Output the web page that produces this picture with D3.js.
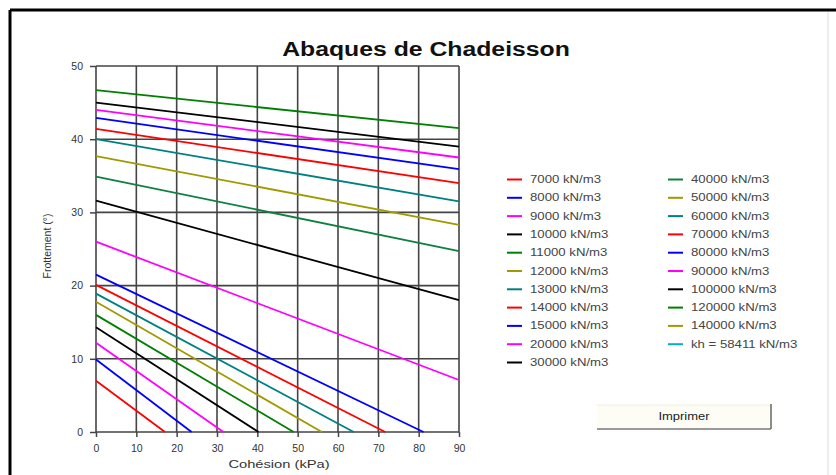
<!DOCTYPE html>
<html>
<head>
<meta charset="utf-8">
<script src="https://cdn.jsdelivr.net/npm/d3@7"></script>
<style>
  body { margin: 0; background: #fff; }
  svg { display: block; font-family: "Liberation Sans", Arial, sans-serif; }
</style>
</head>
<body>
<div id="chart"></div>
<script>
// raideurs (legende)
const seriesNames = ['7000 kN/m3', '8000 kN/m3', '9000 kN/m3', '10000 kN/m3', '11000 kN/m3',
  '12000 kN/m3', '13000 kN/m3', '14000 kN/m3', '15000 kN/m3', '20000 kN/m3', '30000 kN/m3',
  '40000 kN/m3', '50000 kN/m3', '60000 kN/m3', '70000 kN/m3', '80000 kN/m3', '90000 kN/m3',
  '100000 kN/m3', '120000 kN/m3', '140000 kN/m3', 'kh = 58411 kN/m3'];

const seriesColors = ['#ff0000', '#0000ff', '#ff00ff', '#000000', '#008000',
  '#a09a00', '#008080', '#ff0000', '#0000ff', '#ff00ff', '#000000',
  '#108040', '#a09a00', '#008080', '#ff0000', '#0000ff', '#ff00ff',
  '#000000', '#008000', '#a09a00', '#00b0c0'];

// cohesion (kPa) at the start and end of each line
const cohesionStart = [0, 0, 0, 0, 0, 0, 0, 0, 0, 0, 0, 0, 0, 0, 0, 0, 0, 0, 0, null, null];
const cohesionEnd = [17.1, 23.7, 31.6, 40.3, 49.0, 56.0, 63.9, 71.7, 81.2, 90, 90,
  90, 90, 90, 90, 90, 90, 90, 90, null, null];
// frottement (deg) at the start and end of each line
const frottStart = [7.0, 9.9, 12.2, 14.3, 16.0, 17.8, 18.9, 20.1, 21.5, 26.0, 31.6,
  34.9, 37.7, 40.0, 41.4, 42.9, 44.0, 45.0, 46.7, null, null];
const frottEnd = [0, 0, 0, 0, 0, 0, 0, 0, 0, 7.1, 18.0,
  24.7, 28.3, 31.5, 34.0, 35.9, 37.5, 39.0, 41.5, null, null];

const xTicks = [0, 10, 20, 30, 40, 50, 60, 70, 80, 90];
const yTicks = [0, 10, 20, 30, 40, 50];

const width = 836, height = 475;
const plot = { left: 96, right: 459, top: 66, bottom: 432 };

const svg = d3.select('#chart').append('svg')
  .attr('width', width).attr('height', height);

// the original picture is stretched sideways, so texts get a horizontal scale
function wideText(g, x, y, sx, txt) {
  return g.append('text')
    .attr('transform', `translate(${x},${y}) scale(${sx},1)`)
    .text(txt);
}

// cadre
svg.append('line').attr('x1', 10).attr('x2', width).attr('y1', 10).attr('y2', 10)
  .attr('stroke', '#000').attr('stroke-width', 3);
svg.append('line').attr('x1', 10).attr('x2', 10).attr('y1', 10).attr('y2', height)
  .attr('stroke', '#000').attr('stroke-width', 3);
svg.append('line').attr('x1', 828).attr('x2', 828).attr('y1', 12).attr('y2', height)
  .attr('stroke', '#ddd').attr('stroke-width', 1);

wideText(svg, 426, 56, 1.18, 'Abaques de Chadeisson')
  .attr('text-anchor', 'middle')
  .attr('font-size', 21).attr('font-weight', 'bold')
  .attr('fill', '#111');

const x = d3.scaleLinear().domain([0, 90]).range([plot.left, plot.right]);
const y = d3.scaleLinear().domain([0, 50]).range([plot.bottom, plot.top]);

// grille
svg.append('g').selectAll('line').data(xTicks).join('line')
  .attr('x1', d => x(d)).attr('x2', d => x(d))
  .attr('y1', plot.top).attr('y2', plot.bottom)
  .attr('stroke', '#444').attr('stroke-width', 1.6);
svg.append('g').selectAll('line').data(yTicks).join('line')
  .attr('x1', plot.left).attr('x2', plot.right)
  .attr('y1', d => y(d)).attr('y2', d => y(d))
  .attr('stroke', '#444').attr('stroke-width', 1.6);

const xAxis = svg.append('g')
  .attr('transform', `translate(0,${plot.bottom})`)
  .call(d3.axisBottom(x).tickValues(xTicks).tickSize(5).tickPadding(8));
const yAxis = svg.append('g')
  .attr('transform', `translate(${plot.left},0)`)
  .call(d3.axisLeft(y).tickValues(yTicks).tickSize(6).tickPadding(7));
[xAxis, yAxis].forEach(a => {
  a.select('.domain').remove();
  a.selectAll('line').attr('stroke', '#444').attr('stroke-width', 1.5);
  a.selectAll('text').attr('font-size', 10.5).attr('fill', '#333')
    .attr('font-family', '"Liberation Sans", Arial, sans-serif');
});

wideText(svg, 279, 468, 1.4, 'Cohésion (kPa)')
  .attr('text-anchor', 'middle').attr('font-size', 10.5).attr('fill', '#333');
svg.append('text')
  .attr('transform', 'translate(51,246) rotate(-90)')
  .attr('text-anchor', 'middle').attr('font-size', 10.5).attr('fill', '#333')
  .text('Frottement (°)');

// courbes
const series = seriesNames.map((name, i) => ({
  name: name,
  color: seriesColors[i],
  points: cohesionStart[i] == null ? [] : [
    { c: cohesionStart[i], phi: frottStart[i] },
    { c: cohesionEnd[i], phi: frottEnd[i] }
  ]
}));

const line = d3.line().x(d => x(d.c)).y(d => y(d.phi));

svg.append('g').selectAll('path')
  .data(series.filter(s => s.points.length))
  .join('path')
  .attr('d', d => line(d.points))
  .attr('fill', 'none')
  .attr('stroke', d => d.color)
  .attr('stroke-width', 1.8);

// legende
const rowH = 18.3;
const item = svg.append('g').selectAll('g').data(series).join('g')
  .attr('transform', (d, i) => {
    const col = i < 11 ? 0 : 1;
    const row = i < 11 ? i : i - 11;
    return `translate(${col === 0 ? 507 : 668},${179.5 + row * rowH})`;
  });
item.append('line')
  .attr('x1', 0).attr('x2', 15)
  .attr('stroke', d => d.color).attr('stroke-width', 2);
item.append('text')
  .attr('transform', 'translate(23,0) scale(1.32,1)')
  .attr('dy', '0.35em')
  .attr('font-size', 10).attr('fill', '#444')
  .text(d => d.name);

// bouton Imprimer
const btn = svg.append('g');
btn.append('rect')
  .attr('x', 597).attr('y', 405).attr('width', 174).attr('height', 24)
  .attr('fill', '#fdfdf6');
btn.append('line').attr('x1', 597).attr('x2', 771).attr('y1', 405).attr('y2', 405)
  .attr('stroke', '#eeeedd').attr('stroke-width', 1);
btn.append('line').attr('x1', 771).attr('x2', 771).attr('y1', 404).attr('y2', 429)
  .attr('stroke', '#666').attr('stroke-width', 1.5);
btn.append('line').attr('x1', 597).attr('x2', 771).attr('y1', 429).attr('y2', 429)
  .attr('stroke', '#777').attr('stroke-width', 1.5);
wideText(btn, 684, 420, 1.3, 'Imprimer')
  .attr('text-anchor', 'middle').attr('font-size', 10).attr('fill', '#222');
</script>
</body>
</html>
